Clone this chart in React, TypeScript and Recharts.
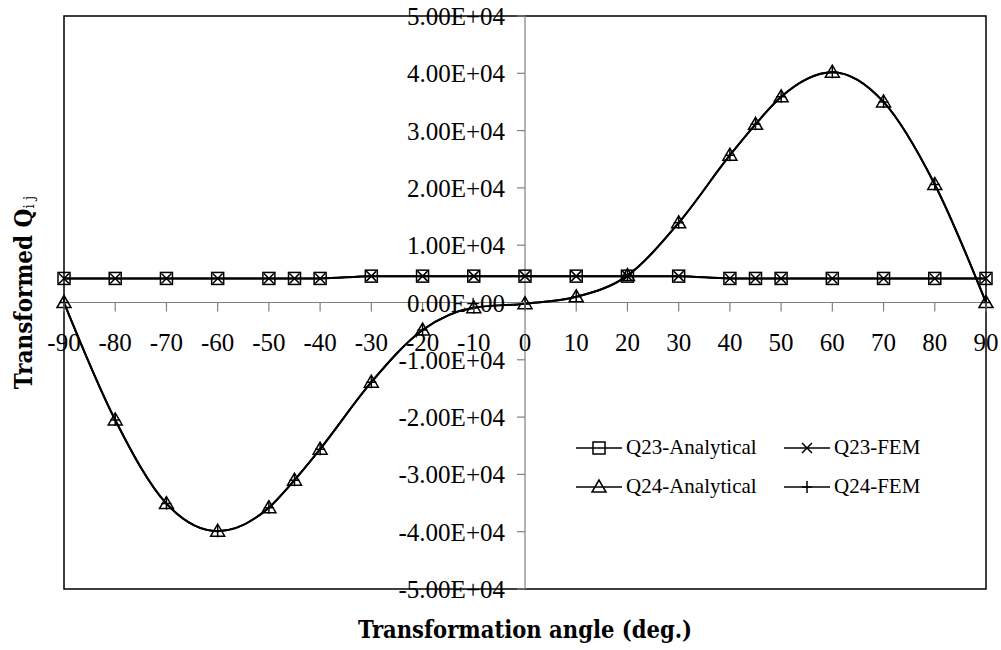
import React from "react";
import { LineChart, Line, XAxis, YAxis, ReferenceLine, ReferenceArea, Legend } from "recharts";

// angles (deg.) where values were computed
const angles = [-90, -80, -70, -60, -50, -45, -40, -30, -20, -10, 0, 10, 20, 30, 40, 45, 50, 60, 70, 80, 90];

const q23Analytical = [4200, 4200, 4200, 4200, 4200, 4200, 4200, 4600, 4600, 4600, 4600, 4600, 4600, 4600, 4200, 4200, 4200, 4200, 4200, 4200, 4200];
const q23Fem = [4200, 4200, 4200, 4200, 4200, 4200, 4200, 4600, 4600, 4600, 4600, 4600, 4600, 4600, 4200, 4200, 4200, 4200, 4200, 4200, 4200];
const q24Analytical = [0, -20500, -35100, -39900, -35800, -31000, -25600, -13900, -4800, -900, -200, 1000, 4700, 13900, 25700, 31100, 35900, 40200, 35000, 20600, 0];
const q24Fem = [0, -20500, -35100, -39900, -35800, -31000, -25600, -13900, -4800, -900, -200, 1000, 4700, 13900, 25700, 31100, 35900, 40200, 35000, 20600, 0];

const xTicks = [-90, -80, -70, -60, -50, -40, -30, -20, -10, 0, 10, 20, 30, 40, 50, 60, 70, 80, 90];
const yTicks = [-50000, -40000, -30000, -20000, -10000, 0, 10000, 20000, 30000, 40000, 50000];

const data = angles.map((angle, i) => ({
  angle,
  q23a: q23Analytical[i],
  q23f: q23Fem[i],
  q24a: q24Analytical[i],
  q24f: q24Fem[i],
}));

const series = [
  { key: "q23a", name: "Q23-Analytical", marker: "square" },
  { key: "q23f", name: "Q23-FEM", marker: "cross" },
  { key: "q24a", name: "Q24-Analytical", marker: "triangle" },
  { key: "q24f", name: "Q24-FEM", marker: "plus" },
];

const W = 1001;
const H = 650;
// axes are 1px thick (zero-size axes are not drawn), plot runs 64..986 x 16..589
const margin = { top: 16, right: 15, bottom: 60, left: 63 };
const plotW = 922;
const plotH = 573;
const tickFont = "'Liberation Serif', 'Times New Roman', serif";
const titleFont = "'DejaVu Serif Condensed', 'DejaVu Serif', serif";

function Marker({ type, cx, cy }: { type: string; cx: number; cy: number }) {
  const st = { stroke: "#000", strokeWidth: 1.5, fill: "none" };
  if (type === "square") return <rect x={cx - 6} y={cy - 6} width={12} height={12} {...st} />;
  if (type === "triangle")
    return <polygon points={`${cx},${cy - 7} ${cx - 7},${cy + 5} ${cx + 7},${cy + 5}`} {...st} />;
  if (type === "cross")
    return <path d={`M${cx - 5},${cy - 5}L${cx + 5},${cy + 5}M${cx - 5},${cy + 5}L${cx + 5},${cy - 5}`} {...st} />;
  return <path d={`M${cx - 5},${cy}L${cx + 5},${cy}M${cx},${cy - 6}L${cx},${cy + 6}`} {...st} />;
}

function fmtSci(v: number) {
  const [m, e] = v.toExponential(2).split("e");
  const n = Math.abs(parseInt(e, 10));
  return `${m}E${e[0] === "-" ? "-" : "+"}${n < 10 ? "0" + n : n}`;
}

// the axes cross at zero, in the middle of the plot
function XTick(props: any) {
  const { x, y, payload } = props;
  const zy = y - plotH / 2;
  return (
    <g>
      <line x1={x} y1={zy} x2={x} y2={zy + 9} stroke="#808080" strokeWidth={1.2} />
      <text x={x} y={zy + 48} textAnchor="middle" fontFamily={tickFont} fontSize={25} fill="#000">
        {payload.value}
      </text>
    </g>
  );
}

function YTick(props: any) {
  const { x, y, payload } = props;
  const zx = x + plotW / 2;
  return (
    <g>
      <line x1={zx - 8} y1={y} x2={zx} y2={y} stroke="#808080" strokeWidth={1.2} />
      <text x={zx - 20} y={y + 9} textAnchor="end" fontFamily={tickFont} fontSize={25} fill="#000">
        {fmtSci(payload.value)}
      </text>
    </g>
  );
}

function LegendBox() {
  return (
    <div style={{ display: "grid", gridTemplateColumns: "208px 150px", rowGap: 0 }}>
      {series.map((s) => (
        <div key={s.key} style={{ display: "flex", alignItems: "center", height: 39 }}>
          <svg width={46} height={20}>
            <line x1={0} y1={10} x2={46} y2={10} stroke="#000" strokeWidth={1.5} />
            <Marker type={s.marker} cx={23} cy={10} />
          </svg>
          <span style={{ fontFamily: tickFont, fontSize: 21, marginLeft: 4, color: "#000" }}>{s.name}</span>
        </div>
      ))}
    </div>
  );
}

export default function App() {
  return (
    <div style={{ position: "absolute", left: 0, top: 0, background: "#fff" }}>
      <LineChart width={W} height={H} data={data} margin={margin}>
        <XAxis
          type="number"
          dataKey="angle"
          domain={[-90, 90]}
          ticks={xTicks}
          interval={0}
          height={1}
          tickSize={0}
          tickMargin={0}
          axisLine={false}
          tickLine={false}
          tick={(p: any) => <XTick {...p} />}
          label={{
            content: (p: any) => (
              <text
                x={p.viewBox.x + p.viewBox.width / 2}
                y={p.viewBox.y + 49}
                textAnchor="middle"
                fontFamily={titleFont}
                fontWeight="bold"
                fontSize={23.5}
                fill="#000"
              >
                Transformation angle (deg.)
              </text>
            ),
          }}
        />
        <YAxis
          type="number"
          domain={[-50000, 50000]}
          ticks={yTicks}
          interval={0}
          width={1}
          tickSize={0}
          tickMargin={0}
          axisLine={false}
          tickLine={false}
          tick={(p: any) => <YTick {...p} />}
          label={{
            content: (p: any) => {
              const cx = 32;
              const cy = p.viewBox.y + p.viewBox.height / 2 - 10;
              return (
                <text
                  x={cx}
                  y={cy}
                  transform={`rotate(-90, ${cx}, ${cy})`}
                  textAnchor="middle"
                  fontFamily={titleFont}
                  fontWeight="bold"
                  fontSize={24}
                  fill="#000"
                >
                  Transformed Q
                  <tspan fontSize={15} fontWeight="normal" dy={2}>
                    i j
                  </tspan>
                </text>
              );
            },
          }}
        />
        <ReferenceArea x1={-90} x2={90} y1={-50000} y2={50000} fill="none" stroke="#000" strokeWidth={1.5} />
        <ReferenceLine y={0} stroke="#808080" strokeWidth={1.2} />
        <ReferenceLine x={0} stroke="#808080" strokeWidth={1.2} />
        <Legend
          layout="horizontal"
          verticalAlign="middle"
          content={() => <LegendBox />}
          wrapperStyle={{ left: 576, top: 428, width: 360 }}
        />
        {series.map((s) => (
          <Line
            key={s.key}
            dataKey={s.key}
            name={s.name}
            type="monotone"
            stroke="#000"
            strokeWidth={2}
            isAnimationActive={false}
            activeDot={false}
            dot={(p: any) => <Marker key={`${s.key}-${p.index}`} type={s.marker} cx={p.cx} cy={p.cy} />}
          />
        ))}
      </LineChart>
    </div>
  );
}
